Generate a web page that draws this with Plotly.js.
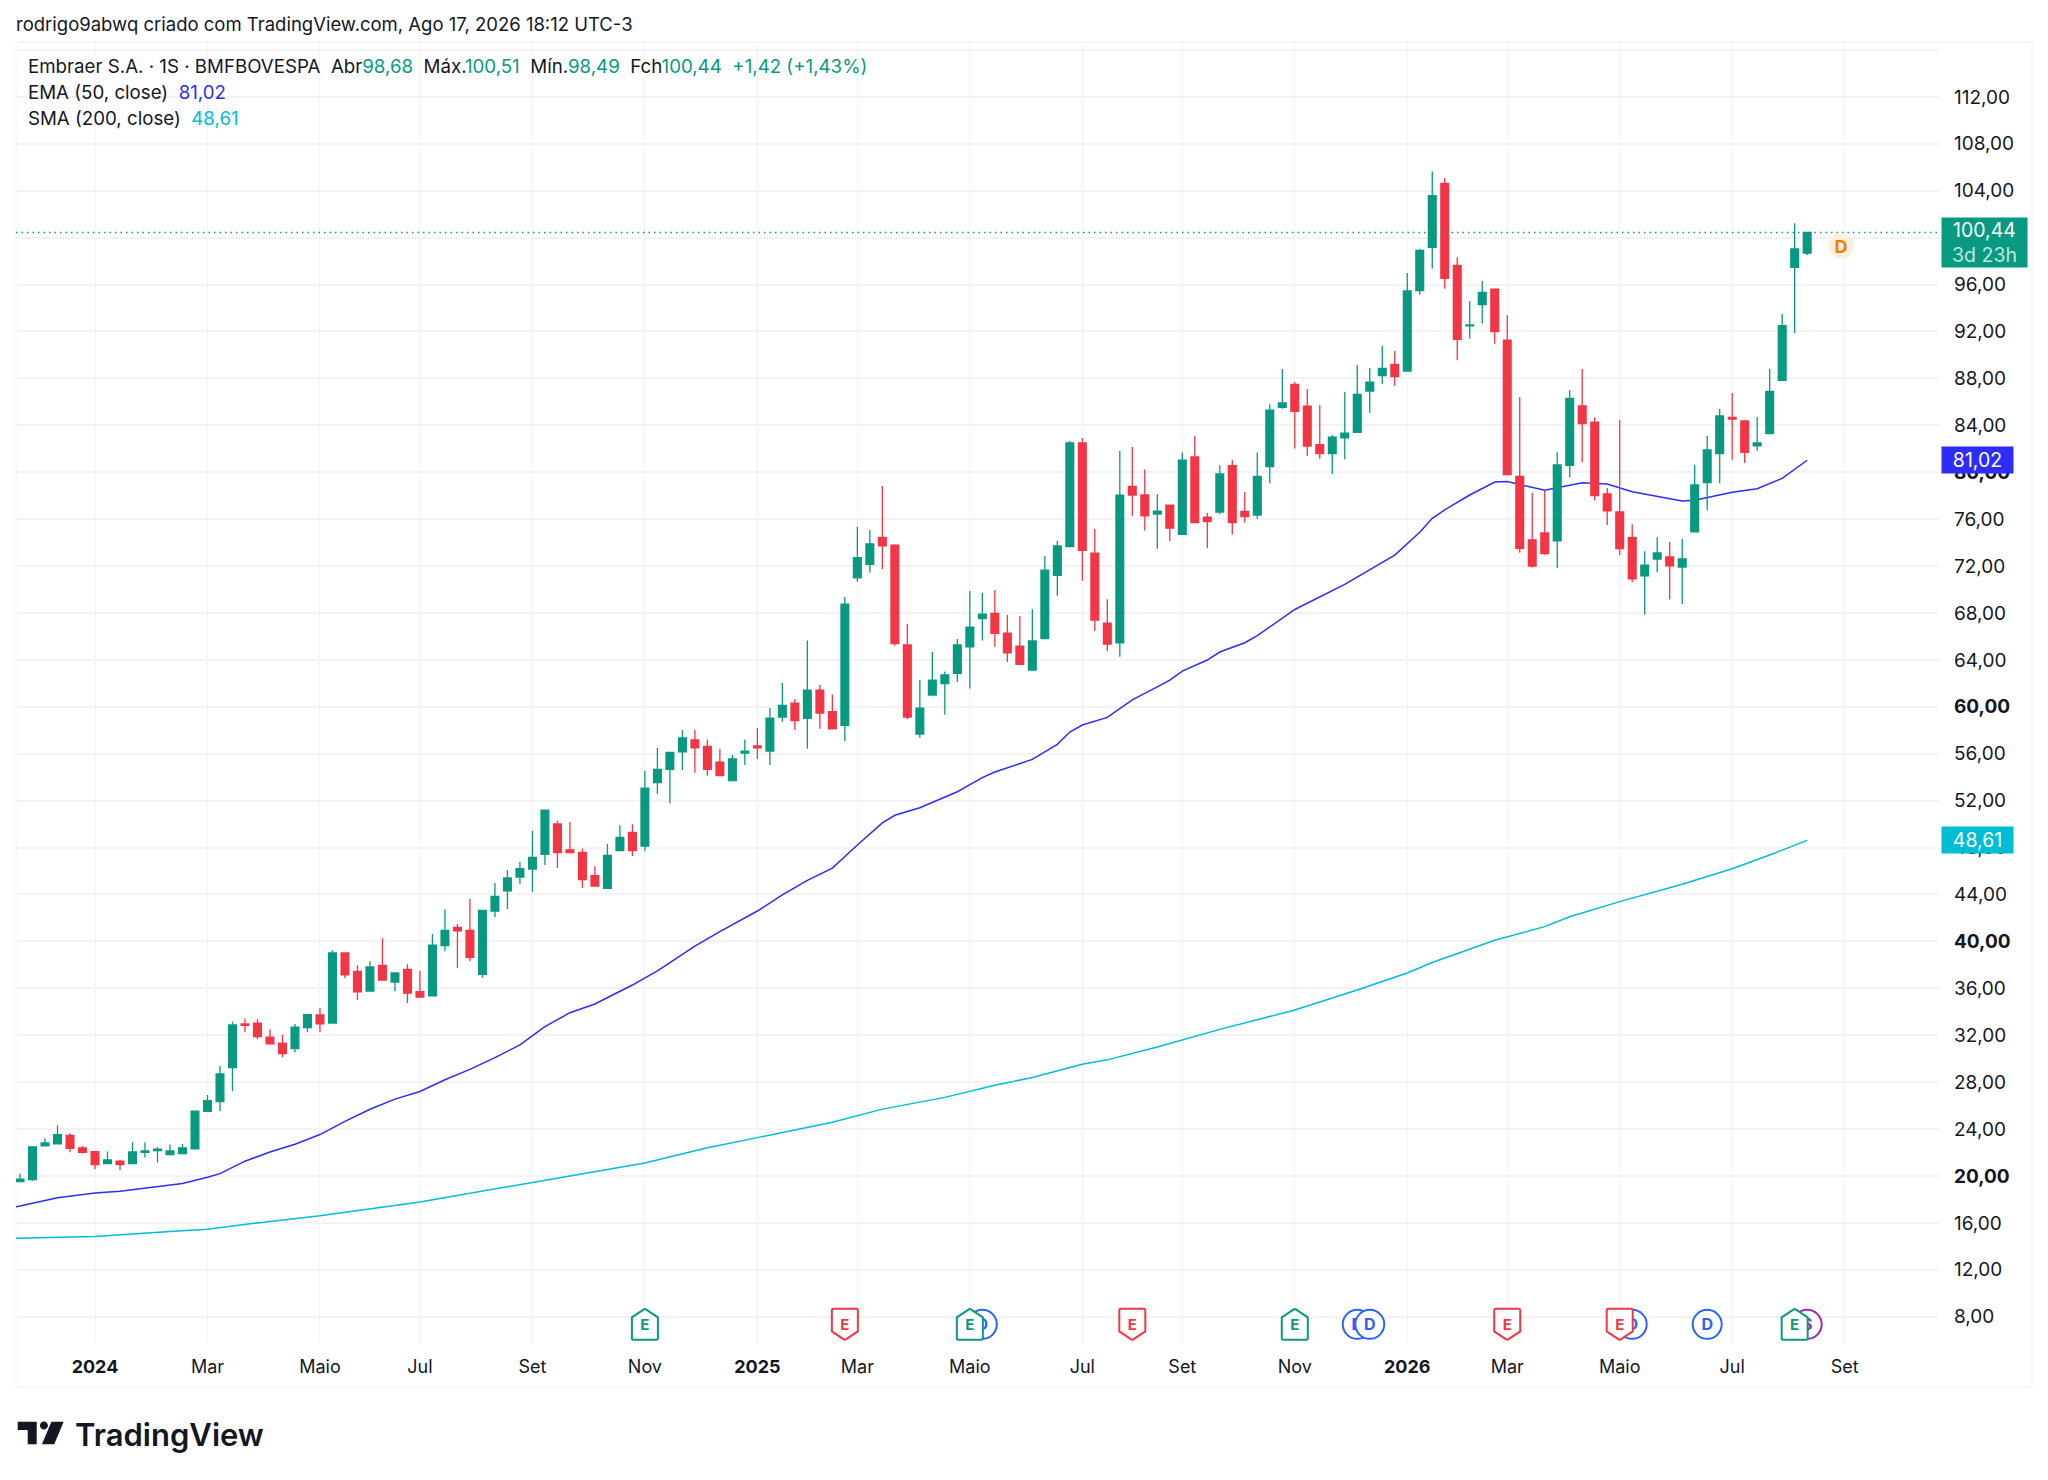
<!DOCTYPE html>
<html>
<head>
<meta charset="utf-8">
<title>Embraer S.A. 1S</title>
<script src="https://cdn.plot.ly/plotly-3.0.1.min.js"></script>
<style>
    html, body { margin: 0; padding: 0; background: #ffffff; }
    #chart { width: 2048px; height: 1480px; }
</style>
</head>
<body>
<div id="chart"></div>
<script>
const weekDates = [
    '2023-11-20', '2023-11-27', '2023-12-04', '2023-12-11', '2023-12-18', '2023-12-25',
    '2024-01-01', '2024-01-08', '2024-01-15', '2024-01-22', '2024-01-29',
    '2024-02-05', '2024-02-12', '2024-02-19', '2024-02-26',
    '2024-03-04', '2024-03-11', '2024-03-18', '2024-03-25',
    '2024-04-01', '2024-04-08', '2024-04-15', '2024-04-22', '2024-04-29',
    '2024-05-06', '2024-05-13', '2024-05-20', '2024-05-27',
    '2024-06-03', '2024-06-10', '2024-06-17', '2024-06-24',
    '2024-07-01', '2024-07-08', '2024-07-15', '2024-07-22', '2024-07-29',
    '2024-08-05', '2024-08-12', '2024-08-19', '2024-08-26',
    '2024-09-02', '2024-09-09', '2024-09-16', '2024-09-23', '2024-09-30',
    '2024-10-07', '2024-10-14', '2024-10-21', '2024-10-28',
    '2024-11-04', '2024-11-11', '2024-11-18', '2024-11-25',
    '2024-12-02', '2024-12-09', '2024-12-16', '2024-12-23', '2024-12-30',
    '2025-01-06', '2025-01-13', '2025-01-20', '2025-01-27',
    '2025-02-03', '2025-02-10', '2025-02-17', '2025-02-24',
    '2025-03-03', '2025-03-10', '2025-03-17', '2025-03-24', '2025-03-31',
    '2025-04-07', '2025-04-14', '2025-04-21', '2025-04-28',
    '2025-05-05', '2025-05-12', '2025-05-19', '2025-05-26',
    '2025-06-02', '2025-06-09', '2025-06-16', '2025-06-23', '2025-06-30',
    '2025-07-07', '2025-07-14', '2025-07-21', '2025-07-28',
    '2025-08-04', '2025-08-11', '2025-08-18', '2025-08-25',
    '2025-09-01', '2025-09-08', '2025-09-15', '2025-09-22', '2025-09-29',
    '2025-10-06', '2025-10-13', '2025-10-20', '2025-10-27',
    '2025-11-03', '2025-11-10', '2025-11-17', '2025-11-24',
    '2025-12-01', '2025-12-08', '2025-12-15', '2025-12-22', '2025-12-29',
    '2026-01-05', '2026-01-12', '2026-01-19', '2026-01-26',
    '2026-02-02', '2026-02-09', '2026-02-16', '2026-02-23',
    '2026-03-02', '2026-03-09', '2026-03-16', '2026-03-23', '2026-03-30',
    '2026-04-06', '2026-04-13', '2026-04-20', '2026-04-27',
    '2026-05-04', '2026-05-11', '2026-05-18', '2026-05-25',
    '2026-06-01', '2026-06-08', '2026-06-15', '2026-06-22', '2026-06-29',
    '2026-07-06', '2026-07-13', '2026-07-20', '2026-07-27',
    '2026-08-03', '2026-08-10', '2026-08-17'
];

const opens = [
    19.52, 19.69, 22.56, 22.73, 23.47, 22.39, 22.08, 21.06, 21.26, 21.06,
    22.02, 22.17, 21.82, 21.91, 22.31, 25.52, 26.34, 29.24, 32.96, 33.02,
    31.83, 31.32, 30.86, 32.65, 33.73, 33.04, 39.01, 37.45, 35.77, 37.96,
    36.54, 37.62, 35.72, 35.35, 39.64, 41.20, 40.94, 37.19, 42.59, 44.30,
    45.49, 46.17, 47.42, 50.01, 47.79, 47.59, 45.60, 44.52, 47.74, 49.30,
    48.13, 53.53, 54.67, 56.17, 57.17, 56.63, 55.29, 53.70, 56.06, 56.66,
    56.23, 59.13, 60.32, 59.01, 61.43, 59.58, 58.42, 71.00, 72.14, 74.44,
    73.79, 65.27, 57.68, 61.00, 61.97, 62.85, 65.12, 67.51, 67.97, 66.29,
    65.18, 63.13, 65.81, 71.20, 73.65, 82.49, 73.11, 67.14, 65.46, 78.80,
    78.06, 76.44, 77.20, 74.70, 81.30, 76.18, 76.61, 80.56, 76.66, 76.35,
    80.47, 85.53, 87.49, 85.64, 82.35, 81.58, 82.94, 83.40, 86.92, 88.23,
    89.20, 88.63, 95.48, 99.17, 104.63, 97.64, 92.47, 94.29, 95.60, 91.25,
    79.65, 74.22, 74.82, 74.14, 80.59, 85.65, 84.28, 78.15, 76.61, 74.45,
    71.16, 72.60, 72.78, 71.92, 74.91, 79.11, 81.58, 84.68, 84.37, 82.24,
    83.29, 87.84, 97.47, 98.68
];
const highs = [
    20.18, 22.50, 23.22, 24.33, 23.64, 22.56, 22.14, 22.08, 21.37, 22.88,
    22.88, 22.48, 22.68, 22.73, 25.58, 26.91, 29.38, 33.16, 33.42, 33.36,
    32.51, 32.03, 32.96, 33.82, 34.33, 39.24, 39.01, 37.96, 38.30, 40.26,
    37.36, 38.05, 37.50, 40.63, 42.73, 41.48, 43.64, 42.65, 44.98, 46.09,
    46.80, 49.44, 51.20, 50.29, 50.18, 47.93, 46.40, 48.30, 49.90, 49.98,
    54.52, 56.49, 56.12, 58.02, 58.02, 57.22, 56.43, 55.89, 57.22, 58.19,
    59.89, 62.03, 60.66, 65.66, 61.86, 61.06, 69.36, 75.35, 75.07, 78.82,
    73.85, 67.06, 62.28, 64.67, 63.00, 65.78, 69.87, 69.70, 69.96, 67.82,
    67.74, 68.31, 72.85, 74.16, 82.66, 82.92, 75.16, 69.16, 81.81, 82.15,
    80.24, 78.14, 77.20, 81.69, 83.09, 76.52, 80.59, 81.04, 78.31, 81.69,
    85.79, 88.80, 87.69, 87.09, 85.73, 83.17, 86.84, 89.14, 88.88, 90.79,
    90.34, 96.99, 99.03, 105.63, 105.09, 98.32, 94.60, 96.30, 95.60, 93.38,
    86.42, 78.26, 78.43, 81.70, 87.01, 88.80, 84.68, 78.66, 84.45, 75.56,
    73.26, 74.45, 74.05, 74.31, 80.62, 83.09, 85.39, 86.76, 84.45, 84.71,
    88.80, 93.49, 101.22, 100.51
];
const lows = [
    19.44, 19.58, 22.53, 22.70, 22.02, 21.91, 20.57, 21.05, 20.52, 20.97,
    21.57, 21.14, 21.82, 21.91, 22.31, 25.46, 25.52, 27.25, 32.25, 31.66,
    31.20, 30.12, 30.52, 32.25, 32.25, 33.04, 36.85, 35.00, 35.74, 36.71,
    35.74, 34.75, 35.18, 35.35, 39.15, 37.70, 38.30, 36.91, 42.08, 42.76,
    44.89, 44.24, 46.51, 46.26, 47.56, 44.55, 44.67, 44.52, 47.74, 47.28,
    47.68, 52.56, 51.77, 54.61, 54.38, 54.13, 54.07, 53.70, 55.04, 55.55,
    55.04, 58.73, 58.02, 56.43, 58.13, 58.08, 57.08, 70.66, 71.46, 71.75,
    65.21, 58.96, 57.37, 61.00, 59.33, 62.11, 61.57, 65.66, 65.12, 63.82,
    63.62, 63.08, 65.81, 69.47, 73.65, 70.75, 66.46, 64.75, 64.27, 76.29,
    75.04, 73.48, 74.13, 74.70, 75.70, 73.51, 76.44, 74.70, 75.70, 76.04,
    79.05, 85.42, 82.03, 81.38, 81.15, 79.85, 81.10, 83.40, 85.08, 87.50,
    87.35, 88.63, 95.14, 97.36, 95.65, 89.54, 91.39, 92.67, 90.96, 79.79,
    73.14, 71.87, 72.97, 71.81, 79.54, 80.85, 77.58, 75.50, 72.95, 70.62,
    67.86, 71.47, 69.14, 68.77, 74.91, 76.75, 79.05, 81.07, 80.79, 81.84,
    83.29, 87.84, 91.87, 98.49
];
const closes = [
    19.72, 22.48, 22.82, 23.53, 22.36, 22.02, 20.97, 21.37, 20.97, 22.05,
    22.14, 22.28, 22.14, 22.39, 25.52, 26.43, 28.70, 32.88, 32.85, 31.88,
    31.26, 30.43, 32.68, 33.76, 32.96, 39.01, 37.14, 35.69, 37.82, 36.71,
    37.31, 35.60, 35.26, 39.69, 40.94, 40.89, 38.64, 42.65, 43.84, 45.41,
    46.20, 47.17, 51.20, 47.56, 47.56, 45.26, 44.72, 47.34, 48.87, 47.74,
    53.07, 54.67, 56.12, 57.34, 56.51, 54.67, 54.13, 55.55, 56.23, 56.51,
    59.04, 60.12, 58.82, 61.43, 59.47, 58.13, 68.76, 72.71, 73.88, 73.73,
    65.38, 59.13, 59.89, 62.28, 62.71, 65.27, 66.80, 67.91, 66.26, 64.61,
    63.62, 65.61, 71.66, 73.71, 82.49, 73.34, 67.40, 65.35, 78.05, 78.06,
    76.29, 76.69, 75.24, 81.04, 75.70, 75.78, 79.85, 75.70, 76.21, 79.65,
    85.30, 85.90, 85.19, 82.23, 81.58, 83.00, 83.34, 86.64, 87.69, 88.86,
    88.15, 95.45, 98.92, 103.58, 96.53, 91.33, 92.55, 95.34, 91.99, 79.79,
    73.51, 72.00, 73.06, 80.62, 86.30, 84.14, 78.00, 76.70, 73.49, 70.90,
    72.07, 73.12, 72.01, 72.60, 78.91, 81.90, 84.80, 84.54, 81.70, 82.49,
    86.90, 92.50, 99.03, 100.44
];

// moving averages were read at these weeks, the first point sits off the left edge
const lineStart = '2023-11-13';
const emaWeeks = [
    0, 3, 6, 8, 11, 13, 15, 16, 18, 20, 22, 24, 26, 28, 30, 32, 34, 36, 38, 40,
    42, 44, 46, 49, 51, 53, 54, 56, 59, 61, 63, 65, 67, 69, 70, 72, 75, 77, 78, 81,
    83, 84, 85, 87, 89, 91, 92, 93, 95, 96, 98, 99, 101, 102, 106, 110, 112, 113, 114, 116,
    118, 119, 122, 125, 127, 129, 133, 134, 137, 139, 141, 143
];
const emaValues = [
    17.25,
    17.45, 18.15, 18.55, 18.70, 19.10, 19.35, 19.89, 20.20, 21.26, 22.05, 22.70, 23.53, 24.65, 25.69, 26.55, 27.20, 28.20, 29.09, 30.09, 31.17,
    32.73, 33.92, 34.66, 36.28, 37.48, 38.90, 39.60, 40.83, 42.59, 43.96, 45.20, 46.25, 48.22, 50.10, 50.75, 51.40, 52.76, 53.96, 54.44, 55.52,
    56.80, 57.85, 58.45, 59.10, 60.60, 61.70, 62.28, 63.05, 63.99, 64.67, 65.46, 66.06, 67.60, 68.30, 70.44, 72.94, 74.88, 76.07, 76.80, 78.06,
    79.17, 79.20, 78.46, 79.11, 79.00, 78.34, 77.55, 77.62, 78.30, 78.60, 79.48, 81.02
];
const smaWeeks = [
    6, 12, 15, 19, 24, 32, 41, 44, 50, 55, 59, 65, 69, 74, 78, 81, 85, 87, 91, 96,
    102, 107, 111, 113, 118, 122, 124, 128, 133, 137, 140, 143
];
const smaValues = [
    14.68,
    14.83, 15.26, 15.46, 16.00, 16.60, 17.79, 19.40, 20.00, 21.10, 22.40, 23.27, 24.58, 25.70, 26.70, 27.73, 28.40, 29.52, 29.90, 31.00, 32.50,
    34.15, 35.85, 37.30, 38.20, 40.10, 41.26, 42.10, 43.39, 44.87, 46.20, 47.37, 48.61
];

const lastClose = 100.44;
const lastEma = 81.02;
const lastSma = 48.61;

const xTickDates = [
    '2024-01-01', '2024-03-04', '2024-05-06', '2024-07-01', '2024-09-02', '2024-11-04',
    '2025-01-06', '2025-03-03', '2025-05-05', '2025-07-07', '2025-09-01', '2025-11-03',
    '2026-01-05', '2026-03-02', '2026-05-04', '2026-07-06', '2026-09-07'
];
const xTickLabels = [
    '<b>2024</b>', 'Mar', 'Maio', 'Jul', 'Set', 'Nov',
    '<b>2025</b>', 'Mar', 'Maio', 'Jul', 'Set', 'Nov',
    '<b>2026</b>', 'Mar', 'Maio', 'Jul', 'Set'
];
const yTickValues = [8, 12, 16, 20, 24, 28, 32, 36, 40, 44, 48, 52, 56, 60, 64, 68, 72, 76, 80, 84, 88, 92, 96, 100, 104, 108, 112, 116];
const yTickLabels = [
    '8,00', '12,00', '16,00', '<b>20,00</b>', '24,00', '28,00', '32,00', '36,00', '<b>40,00</b>', '44,00', '48,00', '52,00', '56,00', '<b>60,00</b>',
    '64,00', '68,00', '72,00', '76,00', '<b>80,00</b>', '84,00', '88,00', '92,00', '96,00', '100,00', '104,00', '108,00', '112,00', ''
];

const upEarnings = ['2024-11-04', '2025-05-05', '2025-11-03', '2026-08-10'];
const downEarnings = ['2025-02-24', '2025-08-04', '2026-03-02', '2026-05-04'];
const dividends = ['2025-05-12', '2025-12-08', '2025-12-15', '2026-05-11', '2026-06-22'];
const splits = ['2026-08-17'];
const nextDividend = '2026-09-05';
const nextDividendLevel = 99.29;
const eventLevel = 7.35;

const green = '#089981';
const red = '#F23645';
const emaColor = '#2e2cf9';
const smaColor = '#00bcd4';
const textColor = '#131722';
const fontName = 'Inter, "Noto Sans", sans-serif';

let emaLine = {
    type: 'scatter',
    mode: 'lines',
    x: [lineStart].concat(emaWeeks.map(i => weekDates[i])),
    y: emaValues,
    line: { color: emaColor, width: 1.5 },
    hoverinfo: 'skip',
    xaxis: 'x',
    yaxis: 'y'
};
let smaLine = {
    type: 'scatter',
    mode: 'lines',
    x: [lineStart].concat(smaWeeks.map(i => weekDates[i])),
    y: smaValues,
    line: { color: smaColor, width: 1.5 },
    hoverinfo: 'skip',
    xaxis: 'x',
    yaxis: 'y'
};
// on the overlay axis so the candles stay on top of the lines
let candles = {
    type: 'candlestick',
    x: weekDates,
    open: opens,
    high: highs,
    low: lows,
    close: closes,
    whiskerwidth: 0,
    increasing: { line: { color: green, width: 1.3 }, fillcolor: green },
    decreasing: { line: { color: red, width: 1.3 }, fillcolor: red },
    hoverinfo: 'skip',
    xaxis: 'x',
    yaxis: 'y2'
};

function badge(date, level, path, color, fill, letter, width, size) {
    return {
        type: 'path',
        xref: 'x', yref: 'y',
        xsizemode: 'pixel', ysizemode: 'pixel',
        xanchor: date, yanchor: level,
        path: path,
        fillcolor: fill,
        line: { color: width ? color : fill, width: width },
        layer: 'above',
        label: { text: letter, font: { family: fontName, size: size, color: color, weight: 700 }, textposition: 'middle center' }
    };
}

// circle shapes lose their label in pixel sizing, so they are paths as well
function circlePath(r) {
    let k = r * 0.5523;
    return 'M' + (-r) + ',0 C' + (-r) + ',' + k + ' ' + (-k) + ',' + r + ' 0,' + r +
        ' C' + k + ',' + r + ' ' + r + ',' + k + ' ' + r + ',0' +
        ' C' + r + ',' + (-k) + ' ' + k + ',' + (-r) + ' 0,' + (-r) +
        ' C' + (-k) + ',' + (-r) + ' ' + (-r) + ',' + (-k) + ' ' + (-r) + ',0 Z';
}

const upPath = 'M-13,-14 Q-13,-15.5 -11.5,-15.5 L11.5,-15.5 Q13,-15.5 13,-14 L13,7 L1,15 Q0,15.6 -1,15 L-13,7 Z';
const downPath = 'M-13,14 Q-13,15.5 -11.5,15.5 L11.5,15.5 Q13,15.5 13,14 L13,-7 L1,-15 Q0,-15.6 -1,-15 L-13,-7 Z';

let shapes = [
    {
        type: 'rect', xref: 'paper', yref: 'paper',
        x0: 0, x1: 1.0484, y0: -0.0338, y1: 1,
        line: { color: '#f0f1f3', width: 1 },
        layer: 'below'
    },
    {
        type: 'line', xref: 'paper', yref: 'y',
        x0: 0, x1: 1, y0: lastClose, y1: lastClose,
        line: { color: green, width: 1.5, dash: '1.5px,4px' },
        layer: 'above'
    }
];
splits.forEach(d => shapes.push(badge(d, eventLevel, circlePath(14.5), '#9c27b0', '#ffffff', 'S', 2, 16)));
dividends.forEach(d => shapes.push(badge(d, eventLevel, circlePath(14.5), '#2962ff', '#ffffff', 'D', 2, 16)));
upEarnings.forEach(d => shapes.push(badge(d, eventLevel, upPath, green, '#ffffff', 'E', 2, 15)));
downEarnings.forEach(d => shapes.push(badge(d, eventLevel, downPath, red, '#ffffff', 'E', 2, 15)));
shapes.push(badge(nextDividend, nextDividendLevel, circlePath(13), '#f57c00', '#fff0de', 'D', 0, 18));

// TradingView glyph, pixels from the bottom left corner of the pane
const logoAnchor = { xref: 'paper', yref: 'paper', xsizemode: 'pixel', ysizemode: 'pixel', xanchor: 0, yanchor: 0, line: { width: 0 }, fillcolor: textColor };
shapes.push(Object.assign({ type: 'path', path: 'M1.7,-78.7 L20.7,-78.7 L20.7,-101.3 L11.7,-101.3 L11.7,-87 L1.7,-87 Z' }, logoAnchor));
shapes.push(Object.assign({ type: 'path', path: circlePath(4).replace(/-?[\d.]+,-?[\d.]+/g, p => { let c = p.split(','); return (+c[0] + 27.9) + ',' + (+c[1] - 82.5); }) }, logoAnchor));
shapes.push(Object.assign({ type: 'path', path: 'M35.4,-78.7 L47.7,-78.7 L38.2,-101.3 L25.9,-101.3 Z' }, logoAnchor));

function leftText(text, xshift, yshift, size) {
    return {
        xref: 'paper', yref: 'paper',
        x: 0, y: 1,
        xanchor: 'left', yanchor: 'middle',
        xshift: xshift, yshift: yshift,
        text: text,
        showarrow: false,
        align: 'left',
        font: { family: fontName, size: size, color: textColor }
    };
}

function priceTag(text, value, color, width, height, yshift) {
    return {
        xref: 'paper', yref: 'y',
        x: 1, y: value,
        xanchor: 'left', yanchor: 'middle',
        xshift: 2, yshift: yshift,
        width: width, height: height,
        text: text,
        showarrow: false,
        align: 'center',
        bgcolor: color,
        borderpad: 0,
        font: { family: fontName, size: 19.5, color: '#ffffff' }
    };
}

function colored(text, color) {
    return '<span style="color:' + color + '">' + text + '</span>';
}

let annotations = [
    leftText('rodrigo9abwq criado com TradingView.com, Ago 17, 2026 18:12 UTC-3', -2.5, 18, 18.5),
    leftText(
        'Embraer S.A. · 1S · BMFBOVESPA  Abr' + colored('98,68', green) + '  Máx.' + colored('100,51', green) +
        '  Mín.' + colored('98,49', green) + '  Fch' + colored('100,44', green) + '  ' + colored('+1,42 (+1,43%)', green),
        10, -24.6, 18.7
    ),
    leftText('EMA (50, close)  ' + colored('81,02', emaColor), 10, -50.7, 18.7),
    leftText('SMA (200, close)  ' + colored('48,61', smaColor), 10, -76.8, 18.7),
    priceTag('100,44', lastClose, green, 85, 23.5, 2),
    priceTag('<span style="color:rgba(255,255,255,0.75)">3d 23h</span>', lastClose, green, 85, 25, -22),
    priceTag('81,02', lastEma, emaColor, 71, 26, 0),
    priceTag('48,61', lastSma, smaColor, 71, 26, 0),
    {
        xref: 'paper', yref: 'paper',
        x: 0, y: 0,
        xanchor: 'left', yanchor: 'middle',
        xshift: 57, yshift: -91,
        text: 'TradingView',
        showarrow: false,
        font: { family: fontName, size: 31, color: textColor, weight: 600 }
    }
];

let layout = {
    width: 2048,
    height: 1480,
    margin: { l: 15.6, r: 109, t: 42, b: 137, pad: 0 },
    paper_bgcolor: '#ffffff',
    plot_bgcolor: '#ffffff',
    showlegend: false,
    boxgap: 0.38,
    boxgroupgap: 0,
    font: { family: fontName, size: 18, color: textColor },
    xaxis: {
        type: 'date',
        range: ['2023-11-17 18:00', '2026-10-29 20:00'],
        tickmode: 'array',
        tickvals: xTickDates,
        ticktext: xTickLabels,
        ticks: '',
        ticklabelstandoff: 11,
        showgrid: true,
        gridcolor: '#f3f4f6',
        gridwidth: 1,
        zeroline: false,
        showline: false,
        rangeslider: { visible: false },
        fixedrange: true
    },
    yaxis: {
        range: [5.76, 116.68],
        side: 'right',
        tickmode: 'array',
        tickvals: yTickValues,
        ticktext: yTickLabels,
        tickfont: { size: 19 },
        ticks: '',
        ticklabelstandoff: 14,
        showgrid: true,
        gridcolor: '#f3f3f3',
        gridwidth: 1.5,
        zeroline: false,
        showline: false,
        fixedrange: true
    },
    yaxis2: {
        range: [5.76, 116.68],
        overlaying: 'y',
        side: 'right',
        visible: false,
        fixedrange: true
    },
    shapes: shapes,
    annotations: annotations
};

Plotly.newPlot('chart', [emaLine, smaLine, candles], layout, { displayModeBar: false });
</script>
</body>
</html>
